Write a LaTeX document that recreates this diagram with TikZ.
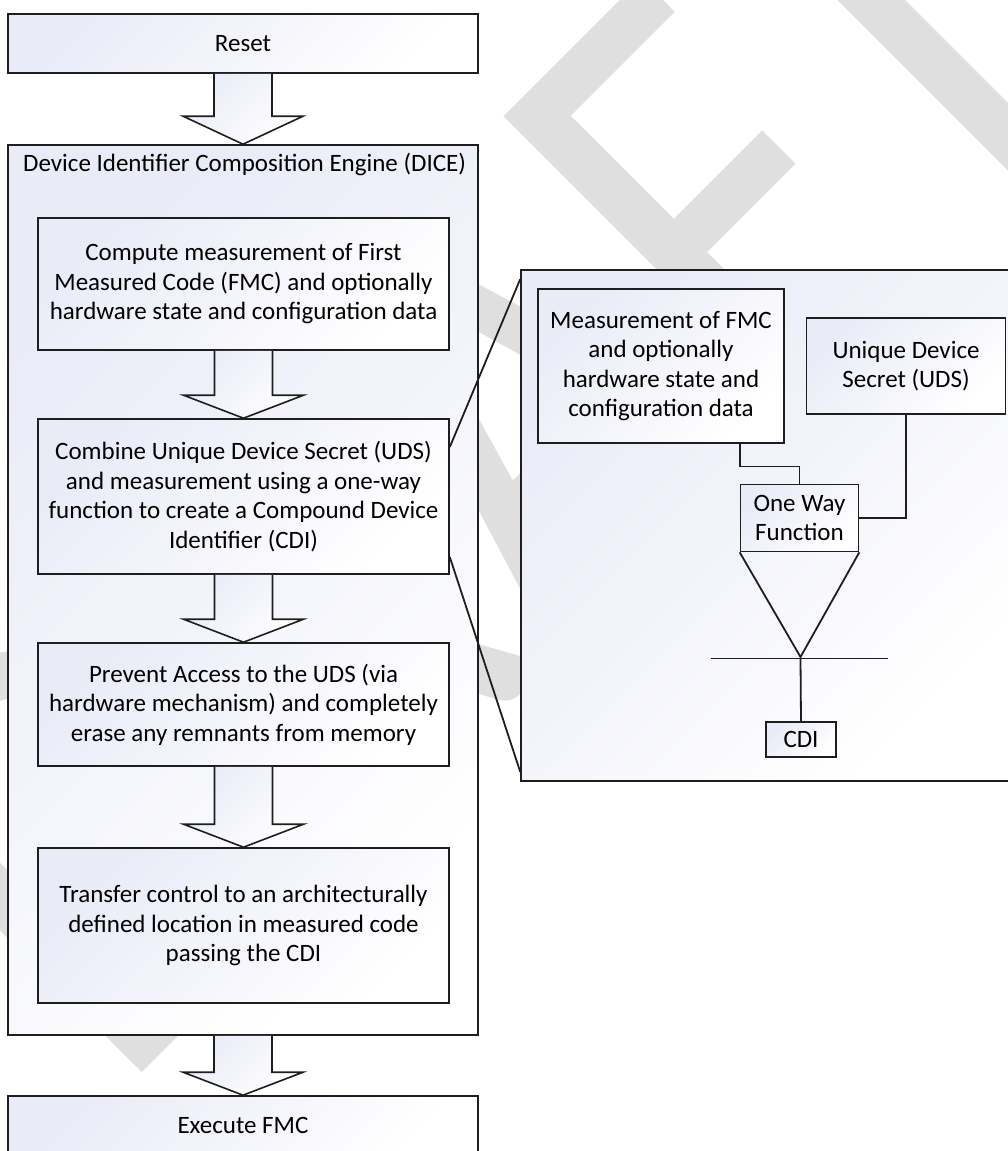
\documentclass[tikz,border=0pt]{standalone}
\usepackage{fontspec}
\setmainfont{Carlito}
\usetikzlibrary{calc}
\definecolor{boxtop}{RGB}{233,235,247}
\definecolor{edge}{RGB}{30,30,30}
\definecolor{wmark}{RGB}{223,223,223}

\begin{document}
\begin{tikzpicture}[x=1pt,y=1pt,line join=miter,
  box/.style={draw=edge,line width=1.6pt,top color=boxtop,bottom color=white,shading angle=45,
    align=center,inner sep=0pt,font=\fontsize{25}{29.5}\selectfont},
  heading/.style={inner sep=0pt,font=\fontsize{25}{29.5}\selectfont},
  wire/.style={draw=edge,line width=1.8pt},
  blk/.style={draw=edge,line width=1.6pt,top color=boxtop,bottom color=white,shading angle=45,
    to path={([xshift=-29pt]\tikztostart) -- ([xshift=-29pt,yshift=#1]\tikztotarget)
      -- ([xshift=-60pt,yshift=#1]\tikztotarget) -- (\tikztotarget)
      -- ([xshift=60pt,yshift=#1]\tikztotarget) -- ([xshift=29pt,yshift=#1]\tikztotarget)
      -- ([xshift=29pt]\tikztostart)}},
  blk/.default=23pt]
  \useasboundingbox (0,0) rectangle (1008,-1151);
  \clip (0,0) rectangle (1008,-1151);

  \node[text=wmark,font=\fontsize{655}{655}\selectfont,rotate=45,xscale=0.82,
    anchor=base west,inner sep=0pt] (draft) at (116,-1099) {DRAFT};

  \node[box,minimum width=470,minimum height=59] (reset) at (243,-43.5) {Reset};
  \node[box,minimum width=470,minimum height=890] (dice) at (243,-590) {};
  \node[heading,anchor=west] (dicetitle) at (23,-165) {Device Identifier Composition Engine (DICE)};
  \node[box,minimum width=411,minimum height=132] (measure) at (243.5,-284)
    {Compute measurement of First\\Measured Code (FMC) and optionally\\hardware state and configuration data};
  \node[box,minimum width=411,minimum height=155] (combine) at (243.5,-496.5)
    {Combine Unique Device Secret (UDS)\\and measurement using a one-way\\function to create a Compound Device\\Identifier (CDI)};
  \node[box,minimum width=411,minimum height=123] (prevent) at (243.5,-704.5)
    {Prevent Access to the UDS (via\\hardware mechanism) and completely\\erase any remnants from memory};
  \node[box,minimum width=411,minimum height=155] (transfer) at (243.5,-925.5)
    {Transfer control to an architecturally\\defined location in measured code\\passing the CDI};
  \node[box,minimum width=470,minimum height=59] (execute) at (243,-1125.5) {Execute FMC};

  \draw[blk=28pt] (reset.south) to (dice.north);
  \draw[blk] (measure.south) to (combine.north);
  \draw[blk] (combine.south) to (prevent.north);
  \draw[blk] (prevent.south) to (transfer.north);
  \draw[blk] (dice.south) to (execute.north);

  \node[box,minimum width=491,minimum height=511] (detail) at (766.5,-525.5) {};
  \node[box,minimum width=246,minimum height=154] (fmcin) at (661,-366)
    {Measurement of FMC\\and optionally\\hardware state and\\configuration data};
  \node[box,minimum width=199,minimum height=96] (udsin) at (906,-366)
    {Unique Device\\Secret (UDS)};
  \node[box,minimum width=118,minimum height=67] (owf) at (799.5,-518) {One Way\\Function};
  \node[box,minimum width=70,minimum height=35] (cdi) at (801,-739.5) {CDI};
  \coordinate (tip) at (800.5,-657);
  \coordinate (barl) at (711,-658.5);
  \coordinate (barr) at (888,-658.5);

  \draw[wire] (fmcin.south -| owf.west) -- ++(0,-22.7) -| (owf.north);
  \draw[wire] (udsin.south) |- (owf.east);
  \draw[wire] (owf.south west) -- (tip) -- (owf.south east);
  \draw[wire] (barl) -- (barr);
  \draw[wire] (tip |- barl) -- (cdi.north);

  \draw[wire] ([yshift=49.5]combine.east) -- ([yshift=-10]detail.north west);
  \draw[wire] ([yshift=-60.5]combine.east) -- ([yshift=10]detail.south west);
\end{tikzpicture}
\end{document}
